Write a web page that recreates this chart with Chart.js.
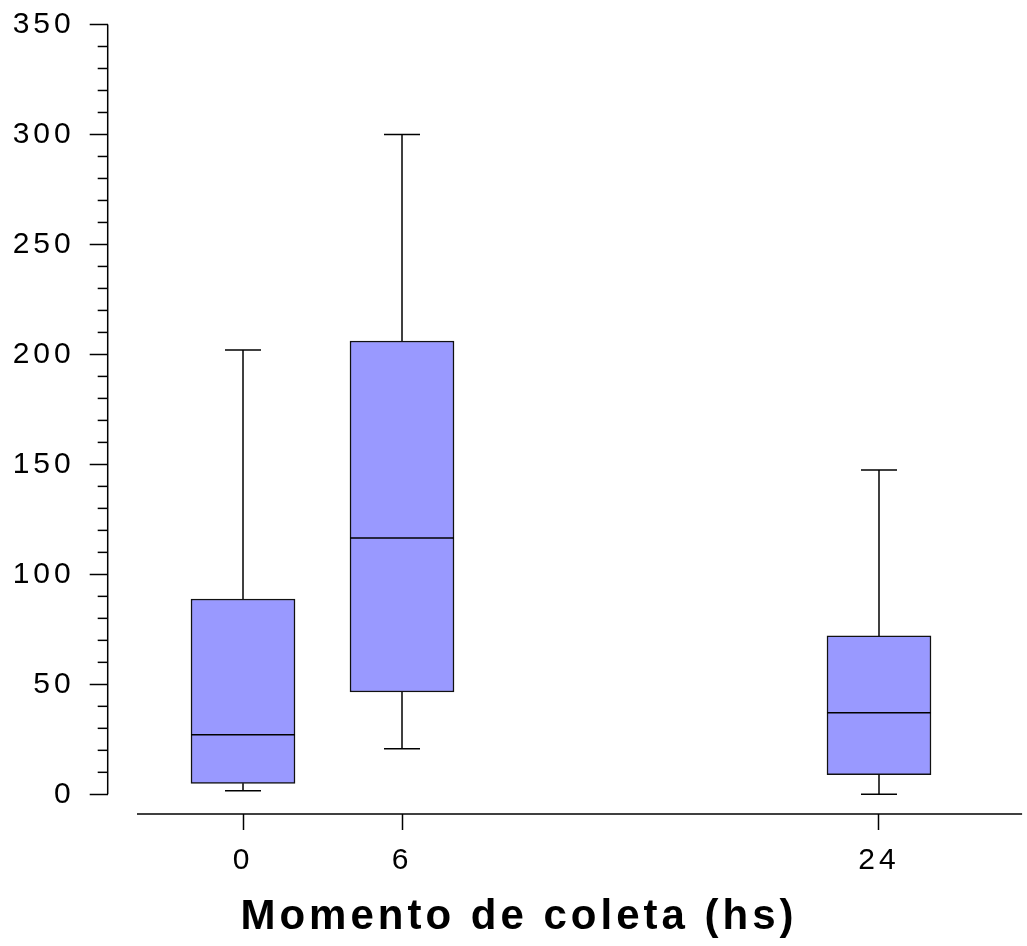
<!DOCTYPE html>
<html>
<head>
<meta charset="utf-8">
<script src="https://cdn.jsdelivr.net/npm/chart.js@4/dist/chart.umd.min.js"></script>
<style>
  html, body { margin: 0; padding: 0; background: #fff; }
  canvas { display: block; }
</style>
</head>
<body>
<canvas id="chart" width="1027" height="946"></canvas>
<script>
// Collection moments (hours) and the five-number summary of each group
const collectionTimes = [0, 6, 24];
const whiskerLow  = [1.6, 20.7, 0];
const quartile1   = [5.0, 46.5, 8.9];
const medians     = [27.1, 116.5, 37.1];
const quartile3   = [88.8, 206.1, 72.0];
const whiskerHigh = [202.0, 300.0, 147.4];

// Axis ticks
const xTickLabels = ['0', '6', '24'];
const yMajorTicks = [0, 50, 100, 150, 200, 250, 300, 350];
const yMinorTicks = [10, 20, 30, 40, 60, 70, 80, 90, 110, 120, 130, 140,
                     160, 170, 180, 190, 210, 220, 230, 240, 260, 270, 280, 290,
                     310, 320, 330, 340];

// Extent of the horizontal axis line (hours)
const X_LINE_FROM = -4, X_LINE_TO = 29.4;

const FONT = '"Liberation Sans", Arial, Helvetica, sans-serif';
const SPACING = '4px';
const INK = '#000';

// Whiskers, caps, medians, axis lines and minor ticks
const boxPlotParts = {
  id: 'boxPlotParts',
  beforeUpdate(chart) { chart.ctx.letterSpacing = SPACING; },
  beforeDraw(chart) { chart.ctx.letterSpacing = SPACING; },
  afterDatasetsDraw(chart) {
    const { ctx, scales: { x, y } } = chart;
    const boxHalf = 52, capHalf = 18;
    const seg = (x1, y1, x2, y2) => { ctx.beginPath(); ctx.moveTo(x1, y1); ctx.lineTo(x2, y2); ctx.stroke(); };
    ctx.save();
    ctx.strokeStyle = INK;
    ctx.lineWidth = 1.5;
    collectionTimes.forEach((t, i) => {
      const px = x.getPixelForValue(t);
      const yHi = y.getPixelForValue(whiskerHigh[i]);
      const yQ3 = y.getPixelForValue(quartile3[i]);
      const yQ1 = y.getPixelForValue(quartile1[i]);
      const yLo = y.getPixelForValue(whiskerLow[i]);
      const yMed = y.getPixelForValue(medians[i]);
      seg(px, yQ3, px, yHi);
      seg(px - capHalf, yHi, px + capHalf, yHi);
      seg(px, yQ1, px, yLo);
      seg(px - capHalf, yLo, px + capHalf, yLo);
      seg(px - boxHalf, yMed, px + boxHalf, yMed);
    });
    ctx.restore();
  },
  afterDraw(chart) {
    const { ctx, chartArea, scales: { x, y } } = chart;
    ctx.save();
    ctx.strokeStyle = INK;
    ctx.lineWidth = 1.5;
    // vertical axis, from 0 to the top value
    const ax = chartArea.left;
    ctx.beginPath();
    ctx.moveTo(ax, y.getPixelForValue(yMajorTicks[0]));
    ctx.lineTo(ax, y.getPixelForValue(yMajorTicks[yMajorTicks.length - 1]));
    ctx.stroke();
    // minor ticks on the vertical axis
    yMinorTicks.forEach(v => {
      const py = y.getPixelForValue(v);
      ctx.beginPath();
      ctx.moveTo(ax - 10, py);
      ctx.lineTo(ax, py);
      ctx.stroke();
    });
    // horizontal axis line
    const ay = chartArea.bottom;
    ctx.beginPath();
    ctx.moveTo(x.getPixelForValue(X_LINE_FROM), ay);
    ctx.lineTo(x.getPixelForValue(X_LINE_TO), ay);
    ctx.stroke();
    ctx.restore();
  }
};

const TICK_SIZE = 30;
const TITLE_SIZE = 42, TITLE_PAD_BOTTOM = 3;
const titleBoxHeight = TITLE_SIZE * 1.2 + TITLE_PAD_BOTTOM;
const PAD_LEFT = 11;

new Chart(document.getElementById('chart'), {
  type: 'bar',
  data: {
    datasets: [{
      data: collectionTimes.map((t, i) => ({ x: t, y: [quartile1[i], quartile3[i]] })),
      backgroundColor: '#9999ff',
      borderColor: '#111',
      borderWidth: 1.5,
      borderSkipped: false,
      barThickness: 104
    }]
  },
  options: {
    responsive: false,
    animation: false,
    events: [],
    layout: { padding: { top: 24.5, right: 0, left: PAD_LEFT, bottom: 0 } },
    plugins: {
      legend: { display: false },
      tooltip: { enabled: false },
      title: {
        display: true,
        position: 'bottom',
        text: 'Momento de coleta (hs)',
        color: INK,
        font: { family: FONT, size: TITLE_SIZE, weight: 'bold' },
        padding: { top: 0, bottom: TITLE_PAD_BOTTOM }
      }
    },
    scales: {
      x: {
        type: 'linear',
        min: -5.106,
        max: 29.585,
        offset: false,
        border: { display: false },
        grid: { display: true, offset: false, drawOnChartArea: false, drawTicks: true, tickLength: 16, tickColor: INK, tickWidth: 1.5 },
        ticks: {
          color: INK,
          font: { family: FONT, size: TICK_SIZE },
          padding: 13,
          maxRotation: 0,
          callback: (v, i) => xTickLabels[i]
        },
        afterBuildTicks: s => { s.ticks = collectionTimes.map(v => ({ value: v })); },
        afterFit: s => {
          s.height = 946 - 814 - titleBoxHeight;
          s.paddingLeft = 0;
          s.paddingRight = 0;
        }
      },
      y: {
        type: 'linear',
        min: -8.95,
        max: 350,
        border: { display: false },
        grid: { display: true, drawOnChartArea: false, drawTicks: true, tickLength: 18, tickColor: INK, tickWidth: 1.5 },
        ticks: {
          color: INK,
          font: { family: FONT, size: TICK_SIZE },
          padding: 15,
          callback: v => String(v)
        },
        afterBuildTicks: s => { s.ticks = yMajorTicks.map(v => ({ value: v })); },
        afterFit: s => {
          s.width = 107.7 - PAD_LEFT;
          s.paddingTop = 0;
          s.paddingBottom = 0;
        }
      }
    }
  },
  plugins: [boxPlotParts]
});
</script>
</body>
</html>
